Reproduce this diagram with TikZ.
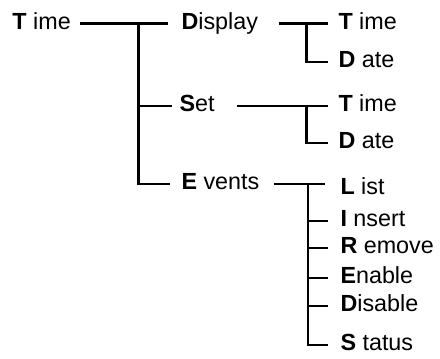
\documentclass[tikz,border=0pt]{standalone}
\usepackage{fontspec}
\setmainfont{Liberation Sans}
\tikzset{every picture/.style={line width=0.75pt}}
\tikzset{
  item/.style={anchor=west, inner sep=0pt, text height=13pt, text depth=4.4pt, font=\fontsize{17.5}{21}\selectfont},
  branch/.style={line width=1.7pt}
}

\begin{document}
\begin{tikzpicture}[x=0.75pt,y=0.75pt,yscale=-1,xscale=1]
\useasboundingbox (0,0) rectangle (440,359);

% Text Node
\node[item] (root) at (12,23.5) {\textbf{T} ime};
% Text Node
\node[item] (disp) at (181,23.5) {\textbf{D}isplay};
% Text Node
\node[item] (set) at (179,106) {\textbf{S}et};
% Text Node
\node[item] (evt) at (181,184) {\textbf{E} vents};
% Text Node
\node[item] (dtime) at (338,23.5) {\textbf{T} ime};
% Text Node
\node[item] (ddate) at (338,62) {\textbf{D} ate};
% Text Node
\node[item] (stime) at (338,106) {\textbf{T} ime};
% Text Node
\node[item] (sdate) at (338,143) {\textbf{D} ate};
% Text Node
\node[item] (list) at (340,189) {\textbf{L} ist};
% Text Node
\node[item] (ins) at (340,221) {\textbf{I} nsert};
% Text Node
\node[item] (rem) at (340,248) {\textbf{R} emove};
% Text Node
\node[item] (ena) at (340,278) {\textbf{E}nable};
% Text Node
\node[item] (dis) at (340,306) {\textbf{D}isable};
% Text Node
\node[item] (stat) at (340,345) {\textbf{S} tatus};

%Trunks
\coordinate (t1) at (138.5,0);
\coordinate (t2) at (306.5,0);
\coordinate (t3) at (308,0);

%Straight Lines: Time
\draw[branch] ([shift={(9,0)}]root.east) -- ([shift={(-13,0)}]disp.west);
\draw[branch] (t1 |- root.east) |- ([shift={(-11,0)}]evt.west);
\draw[branch] (t1 |- set.west) -- ([shift={(-7,0)}]set.west);

%Straight Lines: Display
\draw[branch] ([shift={(20,0)}]disp.east) -- ([shift={(-10,0)}]dtime.west);
\draw[branch] (t2 |- dtime.west) |- ([shift={(-10,0)}]ddate.west);

%Straight Lines: Set
\draw[branch] ([shift={(22,0)}]set.east) -- ([shift={(-10,0)}]stime.west);
\draw[branch] (t2 |- stime.west) |- ([shift={(-10,0)}]sdate.west);

%Straight Lines: Events
\draw[branch] ([shift={(14,0)}]evt.east) -- (t3 |- evt.east) -- ++(17,0);
\draw[branch] (t3 |- evt.east) |- ([shift={(-12,0)}]stat.west);
\foreach \n in {ins,rem,ena,dis}
  \draw[branch] (t3 |- \n.west) -- ([shift={(-12,0)}]\n.west);

\end{tikzpicture}
\end{document}
